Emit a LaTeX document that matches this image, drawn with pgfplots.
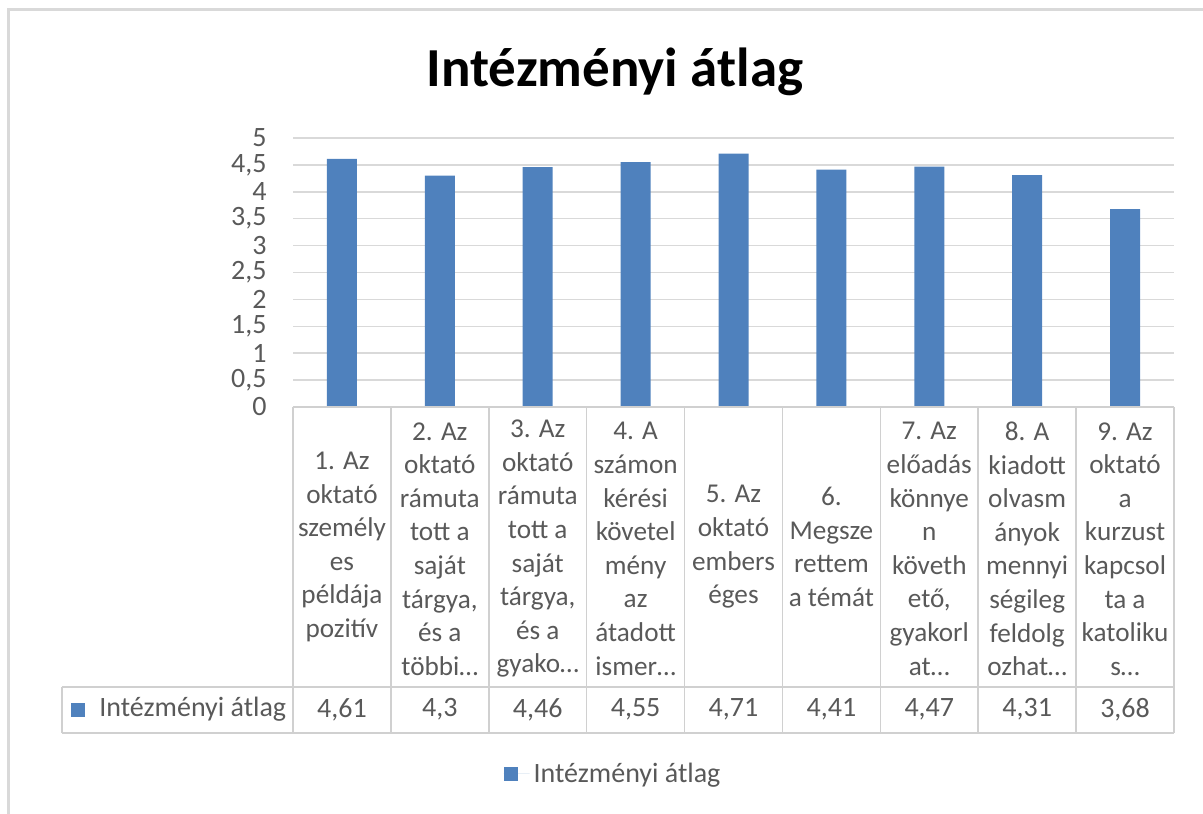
\documentclass[border=0pt]{standalone}
\usepackage{fontspec}
\setmainfont{Carlito}
\usepackage{pgfplots}
\pgfplotsset{compat=1.18}
\definecolor{barblue}{HTML}{4F81BD}
\definecolor{txtgray}{HTML}{595959}
\definecolor{gridgray}{HTML}{D9D9D9}
\definecolor{linegray}{HTML}{D0D0D0}
\newcommand{\tfont}{\fontsize{14bp}{17bp}\selectfont}
\newcommand{\cfont}{\fontsize{13.6bp}{16.8bp}\selectfont}
\newcommand{\cell}[3][0bp]{\vbox{\hbox{\parbox[c][139.5bp][c]{48.95bp}{\vspace*{#1}\cfont\centering #2}}\nointerlineskip\hbox{\parbox[c][23bp][c]{48.95bp}{\tfont\centering #3}}}}
\begin{document}
\begin{tikzpicture}
\useasboundingbox (0,0) rectangle (601.5bp,407bp);
\begin{axis}[
  at={(146.5bp,203.5bp)}, anchor=south west,
  width=440.5bp, height=134.5bp, scale only axis,
  ybar, bar width=15bp,
  xmin=0.5, xmax=9.5, ymin=0, ymax=5,
  enlargelimits=false,
  xtick={1,2,3,4,5,6,7,8,9},
  xticklabels={
    {\cell{1. Az\\oktató\\személy\\es\\példája\\pozitív}{4,61}},
    {\cell[2bp]{2. Az\\oktató\\rámuta\\tott a\\saját\\tárgya,\\és a\\többi…}{4,3}},
    {\cell[2bp]{3. Az\\oktató\\rámuta\\tott a\\saját\\tárgya,\\és a\\gyako…}{4,46}},
    {\cell[2bp]{4. A\\számon\\kérési\\követel\\mény\\az\\átadott\\ismer…}{4,55}},
    {\cell{5. Az\\oktató\\embers\\éges}{4,71}},
    {\cell{6.\\Megsze\\rettem\\a témát}{4,41}},
    {\cell[2bp]{7. Az\\előadás\\könnye\\n\\követh\\ető,\\gyakorl\\at…}{4,47}},
    {\cell[2bp]{8. A\\kiadott\\olvasm\\ányok\\mennyi\\ségileg\\feldolg\\ozhat…}{4,31}},
    {\cell[2bp]{9. Az\\oktató\\a\\kurzust\\kapcsol\\ta a\\katoliku\\s…}{3,68}}
  },
  ytick={0,0.5,1,1.5,2,2.5,3,3.5,4,4.5,5},
  ymajorgrids, grid style={gridgray, line width=0.75bp},
  axis line style={draw=none},
  major tick length=0pt,
  tick style={draw=none},
  /pgf/number format/use comma,
  /pgf/number format/assume math mode=true,
  yticklabel style={font=\tfont, text=txtgray, anchor=east, inner sep=0pt, xshift=-13bp},
  xticklabel style={font=\tfont, text=txtgray, anchor=north, inner sep=0pt},
  legend style={at={(0.3644,-1.364)}, anchor=center, draw=none, font=\tfont, text=txtgray, legend cell align=left},
  legend image code/.code={\fill[barblue] (0bp,-3.5bp) rectangle (7bp,3.5bp); \path (0bp,0bp) -- (13bp,0bp);},
  clip=false,
]
\addplot[fill=barblue, draw=none] coordinates {(1,4.61) (2,4.3) (3,4.46) (4,4.55) (5,4.71) (6,4.41) (7,4.47) (8,4.31) (9,3.68)};
\addlegendentry{Intézményi átlag}
\end{axis}
\begin{scope}[x=0.5bp, y=-0.5bp, shift={(0,407bp)}]
  \draw[gridgray, line width=1.5bp] (9,814) -- (9,10) -- (1203,10);
  \foreach \k in {0,...,9} \draw[linegray, line width=0.75bp] ({293+97.889*\k},407) -- ({293+97.889*\k},733);
  \draw[linegray, line width=0.75bp] (62,687) -- (1174,687);
  \draw[linegray, line width=0.75bp] (62,733) -- (1174,733);
  \draw[linegray, line width=0.75bp] (62,687) -- (62,733);
  \draw[linegray, line width=0.75bp] (293,407) -- (1174,407);
  \fill[barblue] (71,703) rectangle (85,717);
  \node[anchor=base west, inner sep=0pt, font=\tfont, text=txtgray] at (99,717) {Intézményi átlag};
  \node[anchor=base, inner sep=0pt, font=\fontsize{27.5bp}{33bp}\selectfont\bfseries] at (615,87) {Intézményi átlag};
\end{scope}
\end{tikzpicture}
\end{document}
